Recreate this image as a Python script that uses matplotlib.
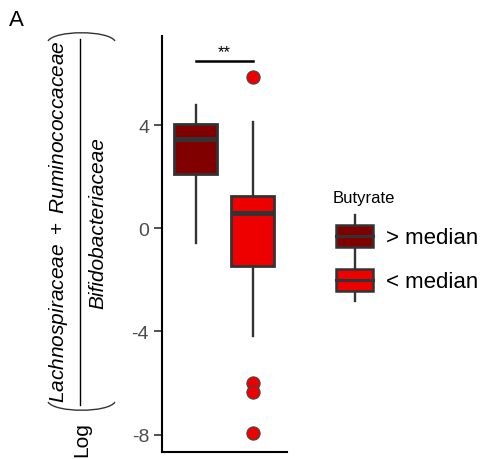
import numpy as np
import matplotlib.pyplot as plt
from matplotlib.patches import Rectangle, PathPatch
from matplotlib.lines import Line2D
from matplotlib.path import Path
from matplotlib.transforms import Affine2D
from matplotlib.legend_handler import HandlerBase

plt.rcParams['font.family'] = ['Liberation Sans', 'DejaVu Sans']
plt.rcParams['mathtext.fontset'] = 'custom'
plt.rcParams['mathtext.rm'] = 'Liberation Sans'
plt.rcParams['mathtext.it'] = 'Liberation Sans:italic'

# log ratio summary per butyrate group
groups = ['> median', '< median']
colors = ['#800000', '#EE0000']
q1 = [2.10, -1.48]
median = [3.46, 0.59]
q3 = [4.04, 1.24]
whisker_low = [-0.59, -4.17]
whisker_high = [4.77, 4.10]
outliers = [[], [5.85, -6.01, -6.33, -7.95]]
sig_y = 6.49
sig_label = '**'
yticks = [-8, -4, 0, 4]

EDGE = '#333333'


class BoxKey(HandlerBase):
    # small boxplot glyph for the legend, sized from the font size
    def create_artists(self, legend, orig_handle, xdescent, ydescent,
                       width, height, fontsize, trans):
        face = orig_handle.get_facecolor()
        cx = -xdescent + width / 2
        cy = -ydescent + height / 2
        bw = width * 0.86
        bh = fontsize * 1.0
        wh = fontsize * 1.9
        whisk = Line2D([cx, cx], [cy - wh / 2, cy + wh / 2],
                       color=EDGE, lw=1.7, transform=trans)
        rect = Rectangle((cx - bw / 2, cy - bh / 2), bw, bh, facecolor=face,
                         edgecolor=EDGE, lw=1.8, transform=trans)
        med = Line2D([cx - bw / 2, cx + bw / 2], [cy, cy],
                     color=EDGE, lw=2.2, transform=trans)
        return [whisk, rect, med]


fig = plt.figure(figsize=(4.9, 4.6), dpi=100)
# pixel coordinates, origin at top left
px = Affine2D().scale(1 / 490, -1 / 460).translate(0, 1) + fig.transFigure

ax = fig.add_axes([161.5 / 490, 7 / 460, 125.5 / 490, 416 / 460])

stats = [dict(med=median[i], q1=q1[i], q3=q3[i], whislo=whisker_low[i],
              whishi=whisker_high[i], fliers=outliers[i]) for i in range(2)]
bp = ax.bxp(stats, positions=[1, 2], widths=0.75, patch_artist=True,
            showcaps=False,
            boxprops=dict(edgecolor=EDGE, linewidth=2.0),
            whiskerprops=dict(color=EDGE, linewidth=1.7),
            medianprops=dict(color=EDGE, linewidth=3.6),
            flierprops=dict(marker='o', markersize=9.5, markeredgecolor='#444444',
                            markeredgewidth=0.8))
for box, c in zip(bp['boxes'], colors):
    box.set_facecolor(c)
for fl, c in zip(bp['fliers'], colors):
    fl.set_markerfacecolor(c)

ax.plot([1, 2], [sig_y, sig_y], color='black', lw=1.8)
ax.text(1.5, sig_y + 0.05, sig_label, ha='center', va='bottom', fontsize=12)

ax.set_xlim(0.4, 2.6)
ax.set_ylim(-8.67, 7.45)
ax.set_xticks([])
ax.set_yticks(yticks)
ax.set_yticklabels([str(t) for t in yticks])
ax.tick_params(axis='y', length=6, width=1.2, color=EDGE, labelcolor='#4D4D4D',
               labelsize=14, pad=3)
for s in ['top', 'right']:
    ax.spines[s].set_visible(False)
for s in ['left', 'bottom']:
    ax.spines[s].set_linewidth(1.5)
    ax.spines[s].set_color('black')

# legend
handles = [Rectangle((0, 0), 1, 1, facecolor=c) for c in colors]
fig.legend(handles, groups, title='Butyrate', handler_map={Rectangle: BoxKey()},
           loc='upper left', bbox_to_anchor=(333 / 490, 1 - 191 / 460),
           frameon=False, fontsize=16, title_fontsize=12,
           handlelength=1.95, handleheight=1.44, handletextpad=0.45,
           labelspacing=0.8, alignment='left', borderpad=0, borderaxespad=0)

# y axis title: Log( numerator / denominator )
fig.text(16, 20, 'A', transform=px, ha='center', va='center', fontsize=16)
fig.text(82, 440, 'Log', transform=px, rotation=90, ha='center', va='center',
         fontsize=15)
fig.text(59, 222, r'$\mathit{Lachnospiraceae}\ +\ \mathit{Ruminococcaceae}$',
         transform=px, rotation=90, ha='center', va='center', fontsize=15)
fig.text(98, 223, 'Bifidobacteriaceae', transform=px, rotation=90,
         ha='center', va='center', fontsize=15, style='italic')
fig.add_artist(Line2D([80, 80], [40, 406], transform=px, color='black', lw=1.0))
codes = [Path.MOVETO, Path.CURVE4, Path.CURVE4, Path.CURVE4]
top = Path([(48, 42), (55, 31), (108, 31), (115, 42)], codes)
bottom = Path([(48, 403), (55, 414), (108, 414), (115, 403)], codes)
for p in [top, bottom]:
    fig.add_artist(PathPatch(p, transform=px, fill=False, lw=1.0, edgecolor='#333333'))

fig.savefig('out.png', dpi=100)
